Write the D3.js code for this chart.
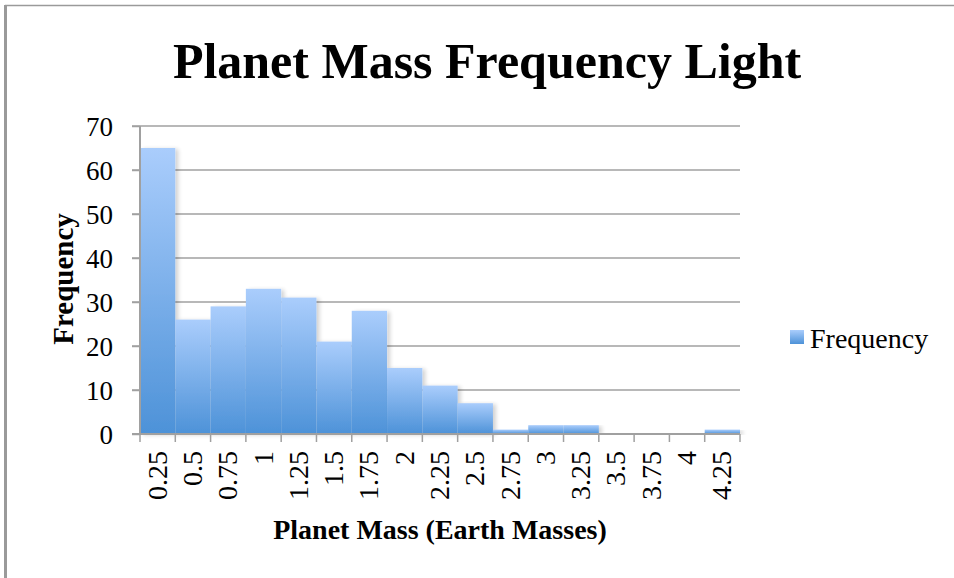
<!DOCTYPE html>
<html>
<head>
<meta charset="utf-8">
<script src="https://cdn.jsdelivr.net/npm/d3@7"></script>
<style>
  html, body { margin: 0; padding: 0; background: #fff; }
  svg { display: block; }
  text { font-family: "Liberation Serif", "DejaVu Serif", serif; fill: #000; }
</style>
</head>
<body>
<svg id="chart" width="954" height="578"></svg>
<script>
// Planet mass histogram: bin labels (Earth masses) and counts per bin
const massBins = ["0.25", "0.5", "0.75", "1", "1.25", "1.5", "1.75", "2", "2.25",
                  "2.5", "2.75", "3", "3.25", "3.5", "3.75", "4", "4.25"];
const frequency = [65, 26, 29, 33, 31, 21, 28, 15, 11, 7, 1, 2, 2, 0, 0, 0, 1];
const yTicks = [0, 10, 20, 30, 40, 50, 60, 70];

const chartTitle = "Planet Mass Frequency Light";
const xTitle = "Planet Mass (Earth Masses)";
const yTitle = "Frequency";
const seriesName = "Frequency";

const svg = d3.select("#chart");
const W = 954, H = 578;
const plot = { left: 140, right: 740, top: 126, bottom: 434 };

// Frame lines around the chart area
svg.append("line").attr("x1", 5).attr("x2", W).attr("y1", 5.5).attr("y2", 5.5)
  .attr("stroke", "#9a9a9a").attr("stroke-width", 1.5);
svg.append("line").attr("x1", 5.5).attr("x2", 5.5).attr("y1", 5).attr("y2", H)
  .attr("stroke", "#9a9a9a").attr("stroke-width", 3);

const x = d3.scaleBand().domain(massBins).range([plot.left, plot.right]).padding(0);
const y = d3.scaleLinear().domain([0, 70]).range([plot.bottom, plot.top]);

// Fill gradient and soft shadow for bars
const defs = svg.append("defs");
const grad = defs.append("linearGradient").attr("id", "barFill")
  .attr("x1", 0).attr("y1", 0).attr("x2", 0).attr("y2", 1);
grad.append("stop").attr("offset", "0%").attr("stop-color", "#aacdfc");
grad.append("stop").attr("offset", "100%").attr("stop-color", "#4d92d8");

const shadow = defs.append("filter").attr("id", "barShadow")
  .attr("x", "-10%").attr("y", "-10%").attr("width", "130%").attr("height", "120%");
shadow.append("feGaussianBlur").attr("in", "SourceAlpha").attr("stdDeviation", 2);
shadow.append("feOffset").attr("dx", 3).attr("dy", 1).attr("result", "off");
shadow.append("feComponentTransfer").append("feFuncA").attr("type", "linear").attr("slope", 0.18);
const merge = shadow.append("feMerge");
merge.append("feMergeNode");
merge.append("feMergeNode").attr("in", "SourceGraphic");

// Horizontal gridlines (with left tick stubs)
svg.append("g").selectAll("line").data(yTicks.filter(d => d > 0)).join("line")
  .attr("x1", plot.left - 8).attr("x2", plot.right)
  .attr("y1", d => y(d)).attr("y2", d => y(d))
  .attr("stroke", "#a0a0a0").attr("stroke-width", 1.5);

// Bars
svg.append("g").selectAll("rect").data(frequency).join("rect")
  .attr("x", (d, i) => x(massBins[i]))
  .attr("width", x.bandwidth())
  .attr("y", d => y(d))
  .attr("height", d => y(0) - y(d))
  .attr("fill", "url(#barFill)")
  .attr("filter", "url(#barShadow)");

// Y axis
const yAxis = d3.axisLeft(y).tickValues(yTicks).tickSize(8).tickPadding(6);
const gy = svg.append("g").attr("transform", `translate(${plot.left},0)`).call(yAxis);
gy.select(".domain").attr("stroke", "#a0a0a0").attr("stroke-width", 2)
  .attr("d", `M0,${plot.top}V${plot.bottom}`);
gy.selectAll(".tick line").attr("stroke", "#a0a0a0").attr("stroke-width", 1.5);
gy.selectAll(".tick text").attr("font-size", 27)
  .attr("font-family", "Liberation Serif, serif").attr("fill", "#000")
  .attr("x", -27).attr("dy", "0.34em");

// X axis with tick marks at band edges
const edges = massBins.map(b => x(b)).concat([plot.right]);
const gx = svg.append("g");
gx.append("line").attr("x1", plot.left - 8).attr("x2", plot.right)
  .attr("y1", plot.bottom).attr("y2", plot.bottom)
  .attr("stroke", "#a0a0a0").attr("stroke-width", 2);
gx.selectAll("line.tk").data(edges).join("line").attr("class", "tk")
  .attr("x1", d => d).attr("x2", d => d)
  .attr("y1", plot.bottom).attr("y2", plot.bottom + 8)
  .attr("stroke", "#a0a0a0").attr("stroke-width", 1.5);
gx.selectAll("text").data(massBins).join("text")
  .attr("transform", d => `translate(${x(d) + x.bandwidth() / 2 + 9},${plot.bottom + 17}) rotate(-90)`)
  .attr("text-anchor", "end")
  .attr("font-size", 28)
  .text(d => d);

// Titles
svg.append("text").attr("x", 487).attr("y", 78).attr("text-anchor", "middle")
  .attr("font-size", 50).attr("font-weight", "bold").text(chartTitle);
svg.append("text").attr("x", 440).attr("y", 539).attr("text-anchor", "middle")
  .attr("font-size", 28).attr("font-weight", "bold").text(xTitle);
svg.append("text").attr("transform", "translate(73,279) rotate(-90)")
  .attr("text-anchor", "middle").attr("font-size", 29).attr("font-weight", "bold").text(yTitle);

// Legend
const lg = svg.append("g").attr("transform", "translate(790,330)");
lg.append("rect").attr("width", 14).attr("height", 14).attr("fill", "url(#barFill)");
lg.append("text").attr("x", 20).attr("y", 18).attr("font-size", 28).text(seriesName);
</script>
</body>
</html>
